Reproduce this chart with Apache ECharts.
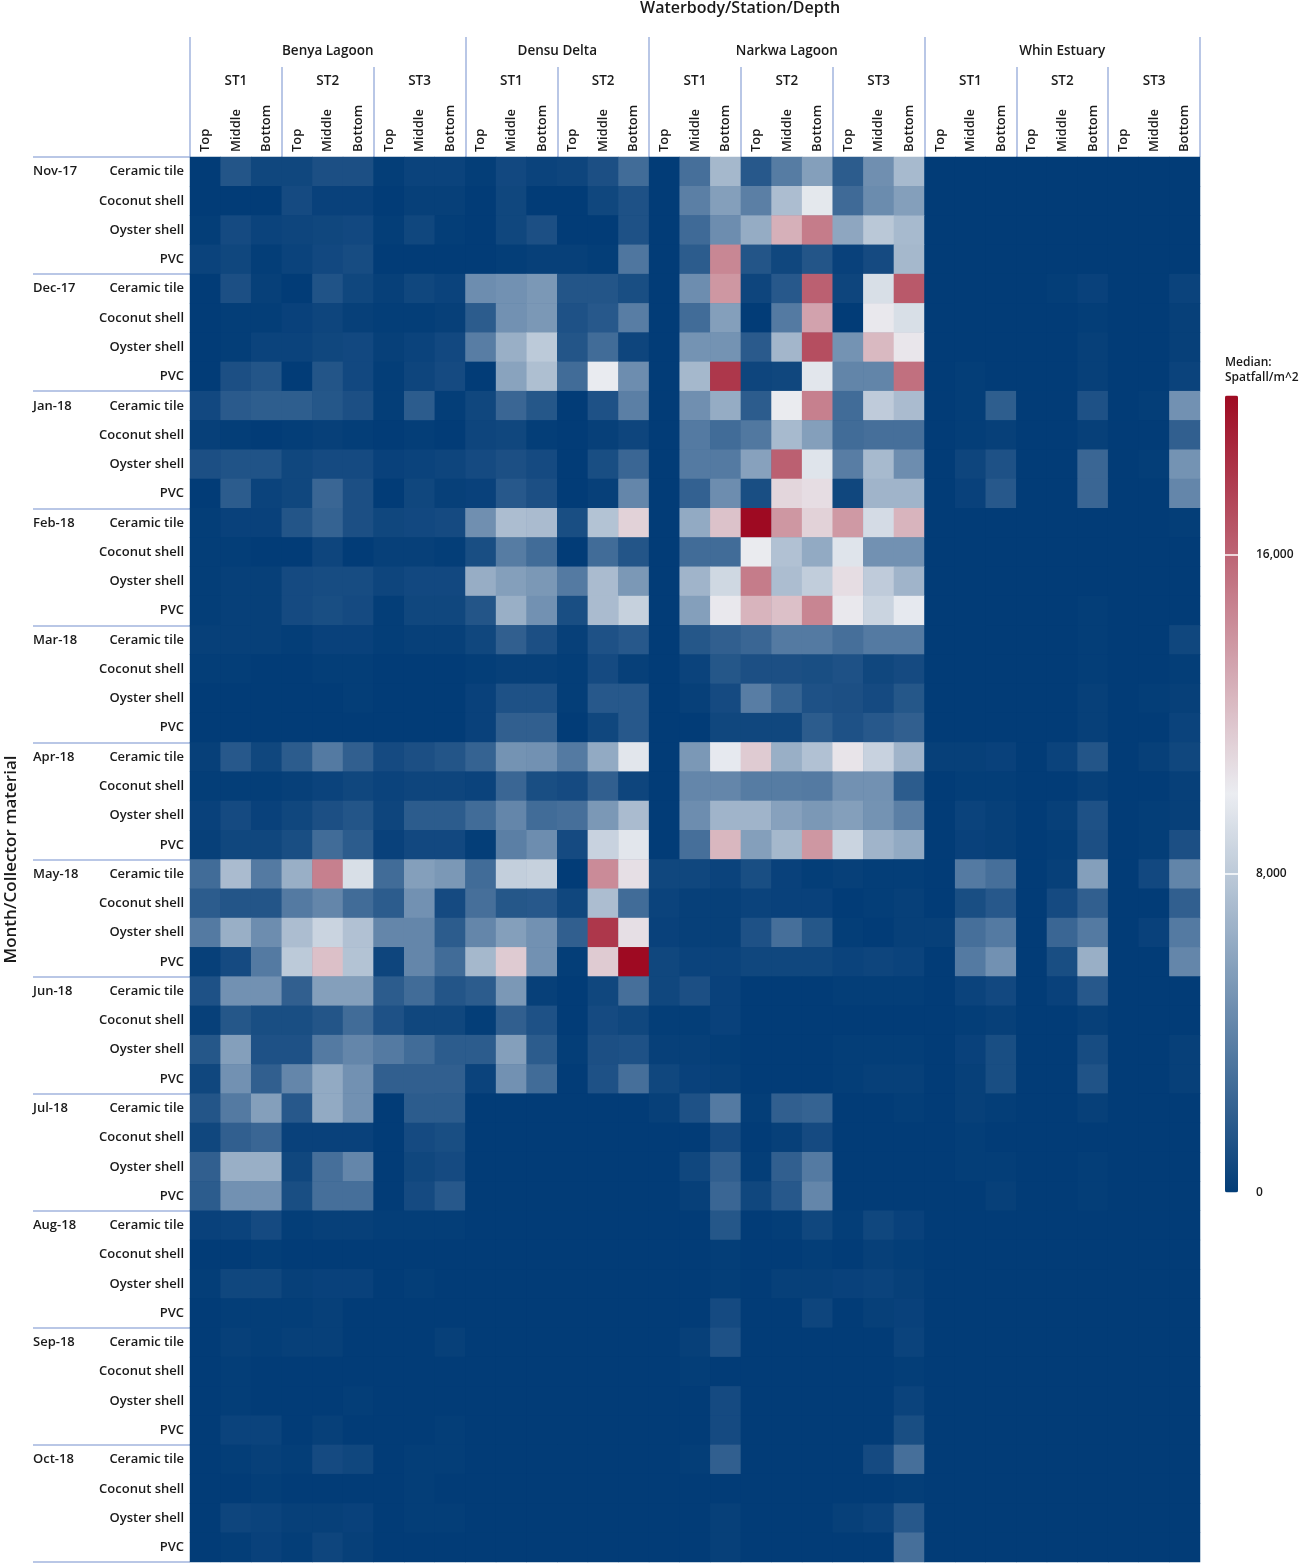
<!DOCTYPE html>
<html lang="en">
<head>
    <meta charset="UTF-8">
    <title>Median spatfall heatmap</title>
    <style>
        html, body { margin: 0; padding: 0; background: #ffffff; }
        #main { width: 1299px; height: 1565px; }
    </style>
    <script src="https://cdn.jsdelivr.net/npm/echarts@6/dist/echarts.min.js"></script>
</head>
<body>
<div id="main"></div>
<script>
    // header / row labels
    var waterbodies = ['Benya Lagoon', 'Densu Delta', 'Narkwa Lagoon', 'Whin Estuary'];
    var stations = [['ST1', 'ST2', 'ST3'], ['ST1', 'ST2'], ['ST1', 'ST2', 'ST3'], ['ST1', 'ST2', 'ST3']];
    var depths = ['Top', 'Middle', 'Bottom'];
    var months = ['Nov-17', 'Dec-17', 'Jan-18', 'Feb-18', 'Mar-18', 'Apr-18', 'May-18', 'Jun-18', 'Jul-18', 'Aug-18', 'Sep-18', 'Oct-18'];
    var materials = ['Ceramic tile', 'Coconut shell', 'Oyster shell', 'PVC'];
    var legendTicks = [0, 8000, 16000];

    // median spatfall/m^2, one row per material, 33 columns (waterbody/station/depth)
    var nov17 = [
        [0,1400,600,600,1100,1100,100,400,400, 100,700,400,500,1100,2700, 0,2900,7000,1600,3600,5600,1800,4700,7100, 0,0,0,0,0,0,0,0,0],
        [0,0,0,800,300,300,0,200,200, 0,600,0,0,600,1200, 0,3800,5600,3800,7300,9700,2600,4500,5600, 0,0,0,0,0,0,0,0,0],
        [100,800,400,500,600,700,100,600,100, 0,600,1100,0,0,1200, 0,2600,4600,6300,12700,15000,6000,7900,7100, 0,0,0,0,0,0,0,0,0],
        [400,600,100,400,700,900,0,0,0, 0,100,200,200,100,3300, 0,1800,14500,1400,600,1400,300,800,7000, 0,0,0,0,0,0,0,0,0]
    ];
    var dec17 = [
        [0,1100,200,0,1300,600,200,600,400, 4600,4800,5200,1400,1400,1000, 0,4600,13800,500,1600,16200,500,9200,16500, 0,0,0,0,100,300,0,0,400],
        [0,100,100,300,500,200,100,100,200, 1800,4800,5200,1200,1600,3700, 0,2700,5600,0,3500,13300,0,10200,9200, 0,0,0,0,0,100,0,0,200],
        [0,100,400,400,600,700,200,400,700, 3700,6500,8000,1400,2700,500, 0,4900,4900,1700,6900,17000,4900,12300,10300, 0,0,0,0,0,200,0,0,200],
        [0,1100,1400,0,1400,700,100,500,800, 0,5800,7400,2700,9900,4600, 0,7000,18000,500,600,9600,4100,4100,15500, 0,100,0,0,0,200,0,0,400]
    ];
    var jan18 = [
        [700,1700,1900,1900,1500,1100,100,1800,100, 600,2400,1500,0,1200,3800, 0,4700,6300,1800,10100,14800,2700,8100,7200, 0,100,1900,0,0,1200,0,100,4800],
        [200,100,0,100,200,100,0,100,0, 500,600,100,0,200,500, 0,3500,2700,3400,7100,5600,2700,2900,2900, 0,100,200,0,0,200,0,0,2000],
        [1100,1300,1300,600,800,800,300,400,500, 800,1100,800,0,1000,2400, 0,3500,3500,5700,16200,9500,3700,7100,4600, 0,500,1200,0,0,2400,0,100,4900],
        [0,1800,400,600,2400,1100,0,600,200, 300,1600,1100,0,200,4200, 0,2100,4600,1000,11000,10700,600,6800,6800, 0,300,1600,0,0,2400,0,0,4200]
    ];
    var feb18 = [
        [100,300,300,1400,2200,1100,600,700,800, 4700,7300,7200,1000,7600,11200, 0,6200,11900,20000,13800,11200,13700,9000,12500, 0,0,0,0,0,0,0,0,100],
        [100,100,0,0,500,0,200,200,100, 1000,3600,2700,0,2700,1400, 0,2700,2700,10100,7500,6200,9500,4800,4800, 0,0,0,0,0,0,0,0,0],
        [100,200,200,800,900,900,500,700,700, 6400,5600,5200,3500,7200,5200, 0,6800,8800,15000,7300,8200,10700,8100,6800, 0,0,0,0,0,0,0,0,0],
        [100,200,200,800,1000,800,100,600,600, 1400,6500,4800,1000,7200,8400, 0,5600,10200,12500,12000,14600,10200,8600,9800, 0,0,0,0,0,100,0,0,0]
    ];
    var mar18 = [
        [200,200,200,100,300,300,100,200,200, 600,2000,1100,200,1200,1600, 0,1500,2000,2400,3500,3500,2900,3500,3500, 0,0,0,0,0,100,0,0,600],
        [100,100,0,0,100,100,0,0,0, 100,200,200,100,800,200, 0,400,1500,1100,1100,1000,1200,600,800, 0,0,0,0,0,100,0,0,100],
        [0,0,0,0,0,100,0,0,0, 300,1200,1200,100,1600,1600, 0,200,800,3700,2200,1200,1100,800,1500, 0,0,0,0,0,200,0,100,200],
        [0,0,0,0,0,0,0,0,0, 300,2000,2000,0,600,1600, 0,0,600,600,600,1800,1200,1600,2000, 0,0,0,0,0,200,0,0,400]
    ];
    var apr18 = [
        [200,1600,600,1800,3500,2000,800,1100,1400, 2200,4900,4800,3500,6200,9600, 0,5200,9800,11500,6500,7500,10400,8500,6800, 200,200,300,0,400,1400,0,200,600],
        [100,100,100,200,400,600,400,500,500, 400,2400,1000,800,2000,500, 0,4200,4200,3600,3600,3500,4800,4800,1800, 0,100,100,0,0,200,0,0,200],
        [300,800,300,600,1100,1400,500,1800,1800, 2700,4200,2700,2900,5200,7200, 0,4600,6800,6800,5700,5200,5600,4900,3800, 0,400,200,0,200,1200,0,100,200],
        [200,600,600,1000,2700,1800,300,700,700, 100,3800,4600,800,8500,9600, 0,2900,12400,5600,7000,13800,8600,6800,6200, 0,300,200,0,100,1100,0,100,1100]
    ];
    var may18 = [
        [2700,7200,3500,6500,14800,9200,2700,5600,5200, 2700,8300,8400,0,14300,10600, 600,600,400,1000,300,100,200,100,100, 0,3500,2900,0,200,5600,0,700,4100],
        [1800,1400,1400,3500,4200,2700,1800,4800,800, 2900,1500,1600,600,7300,2700, 400,200,200,400,300,300,0,100,200, 0,1000,1600,0,800,2000,0,0,2000],
        [3500,6500,4600,7300,8600,7500,4200,4200,1800, 4200,5600,4800,2000,18000,10600, 300,200,200,1200,2900,1500,100,0,200, 200,2900,3500,0,2400,3500,0,300,3500],
        [200,800,3500,8000,12000,7600,500,4200,2700, 7000,11500,4800,100,11500,20000, 600,400,400,600,600,600,400,500,400, 0,3500,4800,0,1000,6500,0,0,4200]
    ];
    var jun18 = [
        [1200,4800,4800,2000,5600,5600,1800,2700,1400, 1800,5200,200,0,600,2900, 600,1100,300,0,0,0,100,100,100, 0,400,700,0,300,1600,0,0,0],
        [200,1500,1000,1000,1400,2700,1200,600,600, 100,2000,1200,0,800,600, 100,100,300,0,0,0,0,0,0, 0,100,200,0,0,200,0,0,0],
        [1500,5600,1200,1200,3500,4200,3500,2700,1800, 1800,5600,1800,100,1100,1200, 200,200,100,0,0,0,100,100,100, 0,300,1000,0,0,900,0,0,200],
        [600,4800,2000,4200,6200,4800,2000,2000,2000, 400,4800,2700,0,1200,2900, 600,300,200,0,0,0,100,200,200, 0,200,1000,0,0,1300,0,0,200]
    ];
    var jul18 = [
        [1400,3500,5600,1600,6200,4800,0,1800,1800, 0,0,0,0,0,0, 200,1200,3500,100,2000,2200,0,0,100, 0,200,100,0,0,200,0,0,0],
        [600,2000,2400,300,300,300,0,800,1000, 0,0,0,0,0,0, 0,0,800,0,200,800,0,0,0, 0,100,0,0,0,0,0,0,0],
        [2000,6500,6500,600,2900,4200,0,600,800, 0,0,0,0,0,0, 0,600,2000,100,2000,3500,0,0,0, 0,100,100,0,0,100,0,0,0],
        [1800,4800,4800,1000,2900,2900,0,800,1600, 0,0,0,0,0,0, 0,200,2400,600,1600,4200,0,0,0, 0,0,200,0,0,100,0,0,0]
    ];
    var aug18 = [
        [300,400,800,100,200,200,100,100,100, 0,0,0,0,0,0, 0,0,1500,0,100,600,100,600,300, 0,0,0,0,0,0,0,0,0],
        [0,0,100,0,0,0,0,0,0, 0,0,0,0,0,0, 0,0,100,0,0,100,0,200,100, 0,0,0,0,0,0,0,0,0],
        [100,600,600,200,300,300,0,100,0, 0,0,0,0,0,0, 0,0,100,0,200,200,300,400,200, 0,0,0,0,0,0,0,0,0],
        [0,100,100,100,200,0,0,0,0, 0,0,0,0,0,0, 0,0,800,0,0,500,0,200,300, 0,0,0,0,0,0,0,0,0]
    ];
    var sep18 = [
        [0,200,100,200,200,0,0,0,200, 0,0,0,0,0,0, 0,200,1200,0,0,0,0,0,400, 0,0,0,0,0,0,0,0,0],
        [0,100,0,0,0,0,0,0,0, 0,0,0,0,0,0, 0,100,0,0,0,0,0,0,100, 0,0,0,0,0,0,0,0,0],
        [0,100,0,0,0,100,0,0,0, 0,0,0,0,0,0, 0,0,800,0,0,0,0,0,400, 0,0,0,0,0,0,0,0,0],
        [0,400,400,0,200,0,0,0,100, 0,0,0,0,0,0, 0,0,800,0,0,0,0,0,1000, 0,0,0,0,0,0,0,0,0]
    ];
    var oct18 = [
        [0,100,200,100,800,600,0,100,100, 0,0,0,0,0,0, 0,100,2000,0,0,0,0,800,2900, 0,0,0,0,0,0,0,0,0],
        [0,0,100,0,0,0,0,100,0, 0,0,0,0,0,0, 0,0,0,0,0,0,0,0,100, 0,0,0,0,0,0,0,0,0],
        [0,500,400,200,200,300,0,100,100, 0,0,0,0,0,0, 0,0,200,0,0,0,200,400,1600, 0,0,0,0,0,0,0,0,0],
        [0,100,300,100,500,200,0,0,0, 0,0,0,0,0,0, 0,0,200,0,0,0,0,0,2900, 0,0,0,0,0,0,0,0,0]
    ];
    var monthData = [nov17, dec17, jan18, feb18, mar18, apr18, may18, jun18, jul18, aug18, sep18, oct18];

    var FONT = 'Open Sans';
    var TXT = '#1a1a1a';
    var SEP = '#a3b5de';
    var LOW = '#023c77';

    // columns and the header group positions (in column units)
    var columns = [], stCenters = [], stEdges = [0], wbCenters = [], wbEdges = [0];
    waterbodies.forEach(function (wb, w) {
        var start = columns.length;
        stations[w].forEach(function (st) {
            var s0 = columns.length;
            depths.forEach(function (d) { columns.push(wb + '|' + st + '|' + d); });
            stCenters.push((s0 + columns.length) / 2);
            stEdges.push(columns.length);
        });
        wbCenters.push((start + columns.length) / 2);
        wbEdges.push(columns.length);
    });

    var rows = [], monthCenters = [], monthEdges = [0];
    months.forEach(function (m) {
        var r0 = rows.length;
        materials.forEach(function (mat) { rows.push(m + '|' + mat); });
        monthCenters.push(r0 + 0.5);
        monthEdges.push(rows.length);
    });

    var data = [];
    monthData.forEach(function (block, mi) {
        block.forEach(function (vals, ri) {
            vals.forEach(function (v, c) {
                data.push([c, mi * materials.length + ri, v]);
            });
        });
    });

    var chart = echarts.init(document.getElementById('main'));
    var option = {
        animation: false,
        textStyle: { fontFamily: FONT },
        title: [
            {
                text: 'Waterbody/Station/Depth', left: 640, top: 0, padding: 0,
                textStyle: { fontSize: 16, fontWeight: 600, color: TXT, lineHeight: 17 }
            },
            {
                text: 'Median:\nSpatfall/m^2', left: 1225, top: 355, padding: 0,
                textStyle: { fontSize: 12, fontWeight: 600, color: TXT, lineHeight: 15 }
            }
        ],
        grid: [
            // dark backdrop hides the hairline seams between the fractional-size cells
            { left: 190, right: 99, top: 157, bottom: 3, outerBoundsMode: 'none', containLabel: false,
              show: true, backgroundColor: LOW, borderWidth: 0 },
            { left: 1225, width: 13, top: 395, height: 798, outerBoundsMode: 'none', containLabel: false }
        ],
        xAxis: [
            {
                type: 'category', data: columns, position: 'top',
                axisLine: { show: false }, axisTick: { show: false }, splitLine: { show: false },
                axisLabel: {
                    interval: 0, rotate: 90, margin: 5, fontSize: 13, fontWeight: 600, color: TXT,
                    formatter: function (v) { return v.split('|')[2]; }
                }
            },
            {
                type: 'value', min: 0, max: columns.length, position: 'top',
                axisLine: { show: false }, splitLine: { show: false },
                axisTick: { show: true, customValues: stEdges, length: 90, lineStyle: { color: SEP, width: 1.5 } },
                axisLabel: {
                    customValues: stCenters, margin: 68, fontSize: 13.5, fontWeight: 600, color: TXT, lineHeight: 16,
                    formatter: function (v) {
                        var i = Math.floor(v / 3), k = 0;
                        for (var w = 0; w < stations.length; w++) {
                            if (i < k + stations[w].length) return stations[w][i - k];
                            k += stations[w].length;
                        }
                        return '';
                    }
                }
            },
            {
                type: 'value', min: 0, max: columns.length, position: 'top',
                axisLine: { show: false }, splitLine: { show: false },
                axisTick: { show: true, customValues: wbEdges, length: 120, lineStyle: { color: SEP, width: 1.5 } },
                axisLabel: {
                    customValues: wbCenters, margin: 98, fontSize: 13.5, fontWeight: 600, color: TXT, lineHeight: 16,
                    formatter: function (v) {
                        for (var w = 0; w < waterbodies.length; w++) {
                            if (v > wbEdges[w] && v < wbEdges[w + 1]) return waterbodies[w];
                        }
                        return '';
                    }
                }
            },
            { gridIndex: 1, type: 'value', show: false }
        ],
        yAxis: [
            {
                type: 'category', data: rows, inverse: true,
                name: 'Month/Collector material', nameLocation: 'middle', nameGap: 170, nameRotate: 90,
                nameTextStyle: { fontSize: 17, fontWeight: 600, color: TXT },
                axisLine: { show: false }, axisTick: { show: false }, splitLine: { show: false },
                axisLabel: {
                    interval: 0, margin: 6, fontSize: 13, fontWeight: 600, color: TXT,
                    formatter: function (v) { return v.split('|')[1]; }
                }
            },
            {
                type: 'value', min: 0, max: rows.length, inverse: true, position: 'left',
                axisLine: { show: false }, splitLine: { show: false },
                axisTick: { show: true, customValues: monthEdges, length: 157, lineStyle: { color: SEP, width: 1.5 } },
                axisLabel: {
                    customValues: monthCenters, margin: 157, align: 'left', fontSize: 13, fontWeight: 600, color: TXT,
                    formatter: function (v) { return months[Math.floor(v / materials.length)]; }
                }
            },
            {
                gridIndex: 1, type: 'value', min: 0, max: 20000, interval: 8000, position: 'right', z: 10,
                axisLine: { show: false }, axisTick: { show: false },
                splitLine: { show: true, lineStyle: { color: '#ffffff', width: 1.5 } },
                axisLabel: {
                    margin: 18, fontSize: 12, fontWeight: 600, color: TXT, showMaxLabel: false,
                    formatter: function (v) {
                        return legendTicks.indexOf(v) >= 0 ? v.toLocaleString('en-US') : '';
                    }
                }
            }
        ],
        visualMap: {
            type: 'continuous', min: 0, max: 20000, calculable: false,
            left: 1225, top: 395, itemWidth: 13, itemHeight: 798, padding: 0,
            inRange: { color: [LOW, '#ebedf1', '#9e0a22'] },
            seriesIndex: 0
        },
        series: [{
            type: 'heatmap', xAxisIndex: 0, yAxisIndex: 0,
            data: data, progressive: 0,
            itemStyle: { borderWidth: 0 },
            emphasis: { disabled: true }
        }]
    };
    chart.setOption(option);
</script>
</body>
</html>
